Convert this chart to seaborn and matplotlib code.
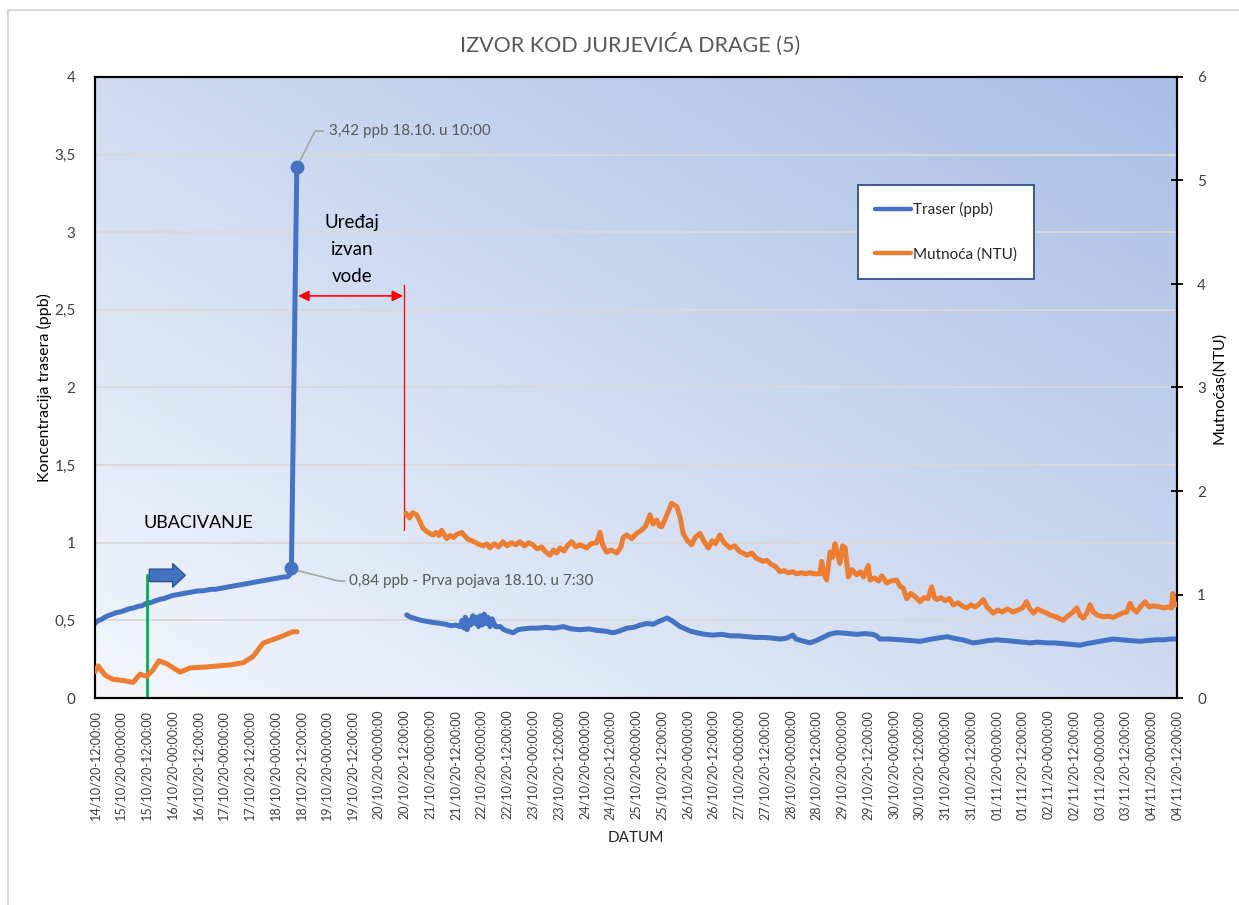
import numpy as np
import pandas as pd
import matplotlib
matplotlib.use("Agg")
import matplotlib.pyplot as plt
import seaborn as sns
from matplotlib.lines import Line2D
from matplotlib.patches import Rectangle, FancyArrowPatch
from matplotlib.colors import LinearSegmentedColormap
from matplotlib.ticker import FuncFormatter

# ---------------- data (hours from 14/10/2020 12:00) ----------------
START = pd.Timestamp("2020-10-14 12:00:00")

traser_h1 = [0, 1.5, 3, 4.5, 6, 8, 10, 12, 14, 16, 18, 20, 22, 24, 26, 28, 30, 32, 34, 36,
             38, 40, 42, 44, 46, 48, 50, 52, 54, 56, 58, 60, 62, 64, 66, 68, 70, 72, 74, 76,
             78, 80, 82, 84, 86, 88, 89.5, 90.5, 91.5, 94]
traser_v1 = [0.48, 0.50, 0.505, 0.52, 0.53, 0.54, 0.55, 0.555, 0.565, 0.575, 0.58, 0.59, 0.595,
             0.61, 0.615, 0.625, 0.635, 0.64, 0.65, 0.66, 0.665, 0.67, 0.675, 0.68, 0.685, 0.69,
             0.69, 0.695, 0.70, 0.70, 0.705, 0.71, 0.715, 0.72, 0.725, 0.73, 0.735, 0.74, 0.745,
             0.75, 0.755, 0.76, 0.765, 0.77, 0.775, 0.78, 0.78, 0.79, 0.84, 3.42]

traser_h2 = [145.2, 147, 149.5, 152, 154, 156, 158.5, 161, 163.5, 166, 168, 170, 171, 171.8,
             172.5, 173.3, 174.2, 175, 176, 177, 177.8, 178.6, 179.5, 180.4, 181.3, 182.2, 183,
             184, 185, 186.5, 188.7, 190.5, 192.5, 194.7, 197, 199.5, 202.6, 206, 210, 214, 218,
             222, 225.9, 230, 234, 238, 241.3, 244, 247.8, 251, 254, 257.1, 260, 263, 266.4,
             268.5, 270.5, 272.5, 275, 277.5, 280.4, 284, 287.9, 292, 296, 300, 303.7, 308, 312,
             316, 319.1, 322, 325.1, 326.5, 329, 333, 336, 339, 342, 345, 347, 351, 355, 358.5,
             362.4, 364, 365.6, 370, 375, 380, 384.3, 388, 392, 396.9, 400, 404, 409, 412, 416,
             420.1, 424, 428, 432, 435.5, 439, 443.4, 447, 451, 455, 458.8, 462, 466, 470, 474.2,
             478, 482, 486.8, 490, 494, 498, 501, 504]
traser_v2 = [0.535, 0.52, 0.51, 0.50, 0.495, 0.49, 0.485, 0.48, 0.475, 0.465, 0.47, 0.46, 0.50,
             0.45, 0.52, 0.44, 0.50, 0.47, 0.53, 0.48, 0.52, 0.46, 0.53, 0.47, 0.54, 0.48, 0.52,
             0.46, 0.51, 0.46, 0.46, 0.44, 0.43, 0.42, 0.44, 0.445, 0.45, 0.45, 0.455, 0.45, 0.46,
             0.445, 0.44, 0.445, 0.435, 0.43, 0.42, 0.43, 0.45, 0.455, 0.47, 0.48, 0.475, 0.495,
             0.515, 0.50, 0.48, 0.46, 0.445, 0.43, 0.42, 0.41, 0.405, 0.41, 0.40, 0.40, 0.395,
             0.39, 0.39, 0.385, 0.38, 0.385, 0.405, 0.38, 0.37, 0.355, 0.37, 0.39, 0.41, 0.42,
             0.42, 0.415, 0.41, 0.415, 0.41, 0.40, 0.38, 0.38, 0.375, 0.37, 0.365, 0.375, 0.385,
             0.395, 0.385, 0.375, 0.355, 0.36, 0.37, 0.375, 0.37, 0.365, 0.36, 0.355, 0.36, 0.355,
             0.355, 0.35, 0.345, 0.34, 0.35, 0.36, 0.37, 0.38, 0.375, 0.37, 0.365, 0.37, 0.375,
             0.375, 0.38, 0.38]

mutnoca_h1 = [0, 1.5, 4.7, 8.4, 13.0, 17.7, 21.0, 24.1, 27.0, 29.8, 33.5, 39.6, 44.3, 52.0,
              62.9, 68.9, 73.6, 78.3, 86.2, 92.2, 94.1]
mutnoca_v1 = [0.254, 0.31, 0.22, 0.18, 0.17, 0.15, 0.23, 0.21, 0.27, 0.36, 0.33, 0.25, 0.29, 0.30,
              0.32, 0.34, 0.40, 0.53, 0.59, 0.64, 0.64]

mutnoca_h2 = [144.9, 146.5, 148, 149.8, 151, 152.8, 154.5, 156, 157.4, 159, 160.2, 161.5, 162.6,
              163.8, 165.5, 167, 168.5, 170.8, 172.5, 174, 175.5, 177.5, 179.3, 181, 182.5, 184,
              186, 188, 190, 192, 194, 196, 197.9, 200, 202, 204, 206, 208, 210, 211.9, 213.5,
              215, 216.6, 218.5, 220, 222, 224, 226, 229, 231, 233.7, 235.2, 236.5, 238.3, 240.5,
              243, 245, 246, 247.7, 250, 252.3, 254.5, 256.5, 258.5, 260, 261.6, 263, 264, 266,
              268.6, 271, 272.5, 274, 276, 277.9, 279.5, 281.8, 283.5, 285.7, 287.5, 289, 291.1,
              293, 295.8, 298, 300, 303.6, 306, 308, 311.3, 313, 315, 317, 319.1, 321, 323, 325,
              326.9, 329, 331, 333, 335, 337.7, 338.5, 339.5, 340.8, 342.4, 343.5, 344.7, 346,
              347, 348.2, 349.4, 350.9, 352.5, 354.8, 356.5, 358, 360.2, 361, 363, 365, 366.5,
              368.8, 370.5, 373.4, 375, 376.5, 378.1, 380, 382, 384.3, 386, 388, 389.7, 391,
              392.1, 394, 396, 398, 399.8, 402, 404, 406, 408, 410, 412, 413.8, 415.5, 418.4,
              420.5, 422.5, 425, 427.7, 430, 432, 433.9, 435.5, 437.1, 439, 441, 443.3, 445, 447,
              449, 451, 453, 455, 457.3, 458.8, 460.3, 462, 463.5, 465, 467, 469.7, 472, 474.3,
              476.5, 478.5, 480.6, 482.1, 483.5, 485.2, 487, 489.1, 491, 493, 496.1, 498, 500,
              501.5, 502, 502.8, 503.8]
mutnoca_v2 = [1.785, 1.74, 1.79, 1.77, 1.72, 1.64, 1.61, 1.59, 1.575, 1.60, 1.57, 1.62, 1.58,
              1.54, 1.57, 1.55, 1.58, 1.60, 1.56, 1.53, 1.52, 1.50, 1.48, 1.47, 1.49, 1.45,
              1.49, 1.46, 1.51, 1.47, 1.50, 1.48, 1.51, 1.47, 1.50, 1.48, 1.44, 1.46, 1.41, 1.38,
              1.43, 1.40, 1.45, 1.42, 1.47, 1.51, 1.46, 1.48, 1.45, 1.49, 1.50, 1.60, 1.48, 1.41,
              1.43, 1.40, 1.46, 1.55, 1.575, 1.54, 1.59, 1.62, 1.66, 1.77, 1.68, 1.72, 1.66, 1.655,
              1.75, 1.88, 1.85, 1.75, 1.59, 1.52, 1.48, 1.55, 1.59, 1.52, 1.45, 1.52, 1.49, 1.575,
              1.50, 1.45, 1.47, 1.42, 1.38, 1.40, 1.35, 1.32, 1.33, 1.29, 1.27, 1.22, 1.23, 1.21,
              1.22, 1.20, 1.21, 1.20, 1.21, 1.20, 1.20, 1.32, 1.20, 1.14, 1.41, 1.36, 1.49, 1.38,
              1.30, 1.47, 1.45, 1.17, 1.24, 1.19, 1.22, 1.17, 1.28, 1.14, 1.16, 1.13, 1.18,
              1.11, 1.13, 1.14, 1.08, 1.06, 0.96, 1.01, 0.98, 0.93, 0.97, 0.96, 1.075, 0.97,
              0.95, 0.97, 0.94, 0.96, 0.90, 0.92, 0.89, 0.87, 0.90, 0.88, 0.91, 0.95, 0.88, 0.82,
              0.85, 0.83, 0.86, 0.83, 0.85, 0.87, 0.93, 0.86, 0.82, 0.86, 0.84, 0.82, 0.80, 0.79,
              0.77, 0.75, 0.79, 0.82, 0.87, 0.80, 0.77, 0.82, 0.90, 0.83, 0.80, 0.785, 0.79, 0.78,
              0.80, 0.82, 0.83, 0.915, 0.86, 0.83, 0.88, 0.93, 0.88, 0.89, 0.88, 0.87, 0.88,
              0.87, 1.01, 0.90, 0.90]

tick_hours = list(range(0, 505, 12))
peak_h, peak_v = 94, 3.42
first_h, first_v = 91.5, 0.84
inject_h = 24

title = "IZVOR KOD JURJEVIĆA DRAGE (5)"
left_label = "Koncentracija trasera (ppb)"
right_label = "Mutnoćas(NTU)"
x_label = "DATUM"
legend_labels = ["Traser (ppb)", "Mutnoća (NTU)"]

BLUE = "#4472c4"
ORANGE = "#ed7d31"
GREY_TXT = "#595959"


def to_time(hours):
    return START + pd.to_timedelta(np.asarray(hours, dtype=float), unit="h")


tr = pd.concat([
    pd.DataFrame({"t": to_time(traser_h1), "v": traser_v1, "seg": 1}),
    pd.DataFrame({"t": to_time(traser_h2), "v": traser_v2, "seg": 2}),
])
mu = pd.concat([
    pd.DataFrame({"t": to_time(mutnoca_h1), "v": mutnoca_v1, "seg": 1}),
    pd.DataFrame({"t": to_time(mutnoca_h2), "v": mutnoca_v2, "seg": 2}),
])

# ---------------- style ----------------
sns.set_style("white")
FONT = ["Lato", "DejaVu Sans"]
plt.rcParams["font.family"] = FONT

fig = plt.figure(figsize=(12.39, 9.05), dpi=100)
ax = fig.add_axes([95 / 1239, 1 - 698 / 905, (1177 - 95) / 1239, (698 - 77) / 905])
ax2 = ax.twinx()

# outer chart frame
fig.patches.append(Rectangle((8 / 1239, -0.1), 1.2, 1.1 - 10 / 905, transform=fig.transFigure,
                             fill=False, edgecolor="#d9d9d9", lw=1.5, zorder=-5))

# gradient background
cmap = LinearSegmentedColormap.from_list("bg", ["#f3f6fc", "#a9bfe5"])
u, v = np.meshgrid(np.linspace(0, 1, 300), np.linspace(0, 1, 300))
ax.imshow((u + v) / 2, extent=(0, 1, 0, 1), transform=ax.transAxes, origin="lower",
          aspect="auto", cmap=cmap, zorder=-10, interpolation="bilinear")

# lines
sns.lineplot(data=tr, x="t", y="v", units="seg", estimator=None, color=BLUE, lw=3.6,
             ax=ax, legend=False, zorder=3)
sns.lineplot(data=mu, x="t", y="v", units="seg", estimator=None, color=ORANGE, lw=3.6,
             ax=ax2, legend=False, zorder=3)

# axes limits
ax.set_xlim(to_time([0])[0], to_time([504])[0])
ax.set_ylim(0, 4)
ax2.set_ylim(0, 6)
ax.set_yticks(np.arange(0, 4.01, 0.5))
ax2.set_yticks(range(0, 7))
ax.yaxis.set_major_formatter(FuncFormatter(lambda val, p: f"{val:g}".replace(".", ",")))

ticks = to_time(tick_hours)
ax.set_xticks(ticks)
ax.set_xticklabels([t.strftime("%d/%m/%y-%H:%M:%S") for t in ticks], rotation=90,
                   fontsize=9.1, color="#404040")

# grid
ax.set_axisbelow(True)
ax.yaxis.grid(True, color="#d9d9d9", lw=1.3)
ax.xaxis.grid(False)
ax2.grid(False)

for a in (ax, ax2):
    for s in a.spines.values():
        s.set_color("black")
        s.set_linewidth(1.5)
        s.set_visible(True)

ax.tick_params(axis="y", length=0, pad=14, labelsize=11, labelcolor="#404040")
ax.tick_params(axis="x", direction="inout", length=9, width=1.3, color="black", pad=4)
ax2.tick_params(axis="y", direction="inout", length=9, width=1.3, color="black", pad=10,
                labelsize=11, labelcolor="#404040")

ax.set_xlabel(x_label, fontsize=11, color="#262626")
ax.xaxis.set_label_coords(0.5, (698 - 831) / 621)
ax.set_ylabel(left_label, fontsize=11.5, color="black")
ax.yaxis.set_label_coords((52 - 95) / 1082, 0.5)
ax2.set_ylabel(right_label, fontsize=11.5, color="black")
ax2.yaxis.set_label_coords((1212 - 95) / 1082, 0.5)

fig.text(630 / 1239, 1 - 44 / 905, title, ha="center", va="center", fontsize=15.5,
         color=GREY_TXT)

# markers + callouts
ax.plot(to_time([first_h, peak_h]), [first_v, peak_v], "o", color=BLUE, ms=9, zorder=4)
ax.plot(to_time([94, 102.5, 106.3]), [3.42, 3.652, 3.652], color="#a6a6a6", lw=1.2, zorder=2)
ax.text(to_time([109])[0], 3.655, "3,42 ppb 18.10. u 10:00", fontsize=11, color=GREY_TXT,
        va="center", ha="left")
ax.plot(to_time([91.8, 113.3, 116.5]), [0.83, 0.754, 0.754], color="#a6a6a6", lw=1.2, zorder=2)
ax.text(to_time([118.3])[0], 0.754, "0,84 ppb - Prva pojava 18.10. u 7:30", fontsize=11,
        color=GREY_TXT, va="center", ha="left")

# device out of water annotation
ax.plot(to_time([144, 144]), [1.08, 2.66], color="red", lw=0.9, zorder=2)
ax.annotate("", xy=(to_time([143.5])[0], 2.59), xytext=(to_time([94.6])[0], 2.59),
            arrowprops=dict(arrowstyle="<|-|>", color="red", lw=1.2, mutation_scale=16,
                            shrinkA=0, shrinkB=0))
ax.text(to_time([119.7])[0], 2.89, "Uređaj\nizvan\nvode", fontsize=13.5, ha="center",
        va="center", color="black", linespacing=1.72)

# injection
ax.plot(to_time([inject_h, inject_h]), [0, 0.79], color="#00b050", lw=2, zorder=4)
ax.add_patch(FancyArrowPatch((to_time([inject_h])[0], 0.79), (to_time([43.3])[0], 0.79),
                             arrowstyle="simple,head_width=17,head_length=9,tail_width=9",
                             mutation_scale=1, fc=BLUE, ec="#2f528f", lw=1, zorder=4))
ax.text(to_time([22.5])[0], 1.13, "UBACIVANJE", fontsize=13, ha="left", va="center",
        color="black")

# legend
handles = [Line2D([0], [0], color=BLUE, lw=3.2), Line2D([0], [0], color=ORANGE, lw=3.2)]
leg = ax2.legend(handles, legend_labels, loc="upper left",
                 bbox_to_anchor=(858 / 1239, 1 - 185 / 905), bbox_transform=fig.transFigure,
                 frameon=True, fancybox=False, fontsize=11, labelspacing=2.0,
                 borderpad=1.1, handlelength=2.4, handletextpad=0.1, borderaxespad=0)
leg.get_frame().set_edgecolor("#2f4f8f")
leg.get_frame().set_linewidth(1.3)
leg.get_frame().set_facecolor("white")
leg.get_frame().set_alpha(1)
leg.set_zorder(10)

fig.savefig("out.png", dpi=100)
